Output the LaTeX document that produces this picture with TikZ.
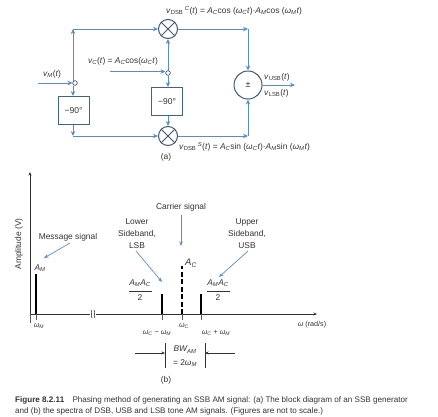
\documentclass[tikz,border=0pt]{standalone}
\usepackage{fontspec}
\setmainfont{Liberation Sans}
\usetikzlibrary{arrows.meta}
\definecolor{bl}{HTML}{5B8CC4}
\definecolor{tx}{HTML}{333333}
\tikzset{
 wire/.style={draw=bl,line width=1pt},
 arr/.style={wire,-{Stealth[length=5pt,width=4.5pt]}},
 mixer/.style={circle,draw=tx!60!bl,line width=1pt,minimum size=19pt,inner sep=0pt},
 sumc/.style={circle,draw=tx!60!bl,line width=1pt,minimum size=28pt,inner sep=0pt,font=\fontsize{9}{10}\selectfont,text=tx},
 dotn/.style={circle,draw=tx!70!bl,fill=white,line width=0.5pt,minimum size=4.5pt,inner sep=0pt},
 bx/.style={rectangle,draw=bl!70!black,line width=1pt,minimum width=31pt,minimum height=28pt,inner sep=0pt,font=\fontsize{8.5}{10}\selectfont,text=tx},
 lab/.style={inner sep=0pt,text=tx,font=\fontsize{8.4}{10}\selectfont,align=center},
 sm/.style={lab,font=\fontsize{7.2}{9}\selectfont},
 axisl/.style={draw=tx,line width=0.9pt,-{Stealth[length=3.5pt,width=3pt]}},
 spike/.style={draw=black,line width=1.5pt},
 tick/.style={draw=tx!80,line width=0.5pt},
 note/.style={draw=bl,line width=0.7pt,-{Stealth[length=4.5pt,width=3.5pt]}},
}
\newcommand{\ii}[1]{\textit{#1}}
\begin{document}
\begin{tikzpicture}[x=1pt,y=-1pt]
\useasboundingbox (0,0) rectangle (438,416);
% block diagram
\node[mixer] (mt) at (168,29) {};
\node[mixer] (mb) at (168,136) {};
\draw[tx!60!bl,line width=0.9pt] (mt.north west)--(mt.south east) (mt.north east)--(mt.south west);
\draw[tx!60!bl,line width=0.9pt] (mb.north west)--(mb.south east) (mb.north east)--(mb.south west);
\node[sumc] (s) at (248,85) {±};
\node[bx] (b1) at (73.5,110.5) {−90°};
\node[bx] (b2) at (167,101.5) {−90°};
\coordinate (in) at (38,83);
\coordinate (inc) at (110,71.5);
\coordinate (out) at (295,85);
\coordinate (tl) at (73,29);
\coordinate (bl1) at (73,136);
\coordinate (tr) at (248,29);
\coordinate (br) at (248,136);
\node[dotn] (jl) at (75,83) {};
\node[dotn] (jc) at (168,73) {};
\draw[arr] (in)--(jl.west);
\draw[arr] (inc)--(inc -| jc.west);
\draw[arr] (tl |- jl.north)--(tl);
\draw[arr] (tl)--(mt);
\draw[arr] (tl |- jl.south)--(tl |- b1.north);
\draw[arr] (tl |- b1.south)--(bl1);
\draw[arr] (bl1)--(mb);
\draw[arr] (jc)--(mt);
\draw[arr] (jc)--(jc |- b2.north);
\draw[arr] (jc |- b2.south)--(mb);
\draw[arr] (mt)--(tr);
\draw[arr] (tr)--(s);
\draw[arr] (mb)--(br);
\draw[arr] (br)--(s);
\draw[arr] (s)--(out);
\node[dotn] at (jl) {};
\node[dotn] at (jc) {};
\node[lab,anchor=west] (l1) at (166,11) {\ii{v}\textsubscript{DSB}\,\textsuperscript{\ii{C}}(\ii{t}) = \ii{A\textsubscript{C}}cos (\ii{ω\textsubscript{C}t})·\ii{A\textsubscript{M}}cos (\ii{ω\textsubscript{M}t})};
\node[lab,anchor=west] (l2) at (179,147) {\ii{v}\textsubscript{DSB}\,\textsuperscript{\ii{S}}(\ii{t}) = \ii{A\textsubscript{C}}sin (\ii{ω\textsubscript{C}t})·\ii{A\textsubscript{M}}sin (\ii{ω\textsubscript{M}t})};
\node[lab,anchor=west] (l3) at (88,61) {\ii{v\textsubscript{C}}(\ii{t}) = \ii{A\textsubscript{C}}cos(\ii{ω\textsubscript{C}t})};
\node[lab,anchor=west] (l4) at (43,74) {\ii{v\textsubscript{M}}(\ii{t})};
\node[lab,anchor=west] (l5) at (264,77) {\ii{v}\textsubscript{USB}(\ii{t})};
\node[lab,anchor=west] (l6) at (264,93) {\ii{v}\textsubscript{LSB}(\ii{t})};
\node[lab] (la) at (166,157) {(a)};
% spectrum
\coordinate (org) at (30,314);
\coordinate (ytop) at (30,172);
\coordinate (xend) at (317,314);
\draw[axisl] (org)--(ytop);
\draw[axisl] (org)--(xend);
\draw[tick] (org)--(30,323);
\node[lab,rotate=90] (amp) at (19,244) {Amplitude (V)};
\draw[spike] (36,314)--(36,274);
\draw[spike] (162,314)--(162,294);
\draw[spike,dash pattern=on 5pt off 2.5pt] (182,314)--(182,266);
\draw[spike] (201,314)--(201,294);
\draw[tick] (162,314)--(162,320) (182,314)--(182,320) (201,314)--(201,320) (36,314)--(36,320);
\fill[white] (90,310) rectangle (96,318);
\draw[tx,line width=0.6pt] (91,310) .. controls (93,312) and (90,316) .. (92,318);
\draw[tx,line width=0.6pt] (94,310) .. controls (96,312) and (93,316) .. (95,318);
\node[lab] (am) at (40,268) {\ii{A\textsubscript{M}}};
\node[lab,font=\fontsize{9.5}{10}\selectfont] (ac) at (191,263) {\ii{A\textsubscript{C}}};
\node[lab] (f1a) at (140,283) {\ii{A\textsubscript{M}A\textsubscript{C}}};
\node[lab] (f1b) at (140,298) {2};
\draw[tx,line width=0.5pt] (129,291)--(152,291);
\node[lab] (f2a) at (218,283) {\ii{A\textsubscript{M}A\textsubscript{C}}};
\node[lab] (f2b) at (218,298) {2};
\draw[tx,line width=0.5pt] (207,291)--(230,291);
\node[lab] (msg) at (68,237) {Message signal};
\node[lab] (lsb) at (137,222) {Lower};
\node[lab] (lsb2) at (137,234) {Sideband,};
\node[lab] (lsb3) at (137,245.5) {LSB};
\node[lab] (car) at (181,207) {Carrier signal};
\node[lab] (usb) at (247,222) {Upper};
\node[lab] (usb2) at (247,234) {Sideband,};
\node[lab] (usb3) at (247,245.5) {USB};
\coordinate (a1) at (44,258);
\coordinate (a2) at (162,282);
\coordinate (a3) at (181,246);
\coordinate (a4) at (219,277);
\coordinate (s1) at (70,243);
\coordinate (s2) at (136,251);
\coordinate (s3) at (181,215);
\coordinate (s4) at (248,251);
\draw[note] (s1)--(a1);
\draw[note] (s2)--(a2);
\draw[note] (s3)--(a3);
\draw[note] (s4)--(a4);
\node[sm] (wm) at (39,326) {\ii{ω\textsubscript{M}}};
\node[sm] (wc) at (184,326) {\ii{ω\textsubscript{C}}};
\node[sm] (wl) at (157,333) {\ii{ω\textsubscript{C}} − \ii{ω\textsubscript{M}}};
\node[sm] (wu) at (216,333) {\ii{ω\textsubscript{C}} + \ii{ω\textsubscript{M}}};
\node[sm] (wr) at (312,325) {\ii{ω} (rad/s)};
\coordinate (bl0) at (165,343);
\coordinate (bl2) at (165,368);
\coordinate (br0) at (205,343);
\coordinate (br2) at (205,368);
\coordinate (al) at (135,353);
\coordinate (ar) at (235,353);
\draw[tx,line width=0.6pt] (bl0)--(bl2) (br0)--(br2);
\draw[tx,line width=0.6pt,-{Stealth[length=3.5pt,width=3pt]}] (al)--(bl0 |- al);
\draw[tx,line width=0.6pt,-{Stealth[length=3.5pt,width=3pt]}] (ar)--(br0 |- ar);
\node[lab] (bw) at (185,349.5) {\ii{BW\textsubscript{AM}}};
\node[lab] (bw2) at (185,363) {= 2\ii{ω\textsubscript{M}}};
\node[lab] (lb) at (166,380) {(b)};
% caption
\node[lab,anchor=west,font=\fontsize{8.1}{10}\selectfont] (c1) at (15,400) {\textbf{Figure 8.2.11}\hspace{6pt} Phasing method of generating an SSB AM signal: (a) The block diagram of an SSB generator};
\node[lab,anchor=west,font=\fontsize{8.1}{10}\selectfont] (c2) at (15,411) {and (b) the spectra of DSB, USB and LSB tone AM signals. (Figures are not to scale.)};
\end{tikzpicture}
\end{document}
